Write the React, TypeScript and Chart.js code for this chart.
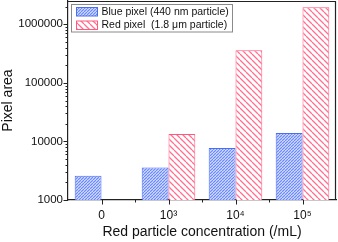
import { useEffect, useRef } from "react";
import { Chart, registerables } from "chart.js";
Chart.register(...registerables);

const categories = ["0", "10³", "10⁴", "10⁵"];
const bluePixel = [2600, 3600, 7700, 14000];
const redPixel = [null, 13400, 360000, 1950000];
const yMajorTicks = [1000, 10000, 100000, 1000000];
const yMin = 1000;
const yMax = 2500000;
const seriesLabels = ["Blue pixel (440 nm particle)", "Red pixel  (1.8 μm particle)"];

const FONT = '"Liberation Sans", Arial, sans-serif';
const BLUE_BORDER = "#4a6ef0";
const RED_BORDER = "#ff5a7e";

function makePattern(size: number, bg: string, color: string, dir: "/" | "\\", lw: number) {
  const c = document.createElement("canvas");
  c.width = size;
  c.height = size;
  const x = c.getContext("2d")!;
  x.fillStyle = bg;
  x.fillRect(0, 0, size, size);
  x.strokeStyle = color;
  x.lineWidth = lw;
  x.beginPath();
  for (let k = -1; k <= 1; k++) {
    if (dir === "/") {
      x.moveTo(k * size, size);
      x.lineTo(k * size + size, 0);
    } else {
      x.moveTo(k * size, 0);
      x.lineTo(k * size + size, size);
    }
  }
  x.stroke();
  return x.createPattern(c, "repeat")!;
}

export default function App() {
  const ref = useRef<HTMLCanvasElement | null>(null);
  useEffect(() => {
    const canvas = ref.current!;
    const bluePat = makePattern(3, "#eef2ff", "#6a88ff", "/", 1.3);
    const redPat = makePattern(6, "#ffffff", "#ff7090", "\\", 1.3);

    const decor = {
      id: "decor",
      afterDraw(chart: any) {
        const ctx = chart.ctx as CanvasRenderingContext2D;
        const a = chart.chartArea;
        const xs = chart.scales.x;
        const ys = chart.scales.y;
        ctx.save();
        ctx.strokeStyle = "#222";
        ctx.lineWidth = 1.2;
        ctx.beginPath();
        ctx.moveTo(a.left, a.top + 0.5);
        ctx.lineTo(a.right - 0.5, a.top + 0.5);
        ctx.lineTo(a.right - 0.5, a.bottom);
        ctx.stroke();
        ctx.lineWidth = 1;
        ctx.beginPath();
        for (let e = 3; e <= 6; e++) {
          for (let m = 1; m <= 9; m++) {
            const v = m * Math.pow(10, e);
            if (v < yMin || v > yMax) continue;
            const py = Math.round(ys.getPixelForValue(v)) + 0.5;
            const len = m === 1 ? 4.5 : 2.5;
            ctx.moveTo(a.left - len, py);
            ctx.lineTo(a.left, py);
          }
        }
        for (let i = 0; i < categories.length; i++) {
          const px = Math.round(xs.getPixelForValue(i)) + 0.5;
          ctx.moveTo(px, a.bottom);
          ctx.lineTo(px, a.bottom + 4.5);
          if (i < categories.length - 1) {
            const mx = Math.round((xs.getPixelForValue(i) + xs.getPixelForValue(i + 1)) / 2) + 0.5;
            ctx.moveTo(mx, a.bottom);
            ctx.lineTo(mx, a.bottom + 2.5);
          }
        }
        ctx.stroke();
        const lx = 71.5, ly = 4.5, lw = 161, lh = 27.5;
        ctx.fillStyle = "#fff";
        ctx.fillRect(lx, ly, lw, lh);
        ctx.strokeStyle = "#8a8a8a";
        ctx.lineWidth = 1;
        ctx.strokeRect(lx, ly, lw, lh);
        const sw = [
          { pat: bluePat, border: BLUE_BORDER, y: 7.5 },
          { pat: redPat, border: RED_BORDER, y: 21 },
        ];
        sw.forEach((s, i) => {
          ctx.fillStyle = s.pat;
          ctx.fillRect(76.5, s.y, 21, 8.5);
          ctx.strokeStyle = s.border;
          ctx.strokeRect(76.5, s.y, 21, 8.5);
          ctx.fillStyle = "#111";
          ctx.font = `10.5px ${FONT}`;
          ctx.textBaseline = "middle";
          ctx.textAlign = "left";
          ctx.fillText(seriesLabels[i], 101.5, s.y + 4.5);
        });
        ctx.restore();
      },
    };

    const chart = new Chart(canvas, {
      type: "bar",
      data: {
        labels: categories,
        datasets: [
          {
            label: seriesLabels[0],
            data: bluePixel,
            backgroundColor: bluePat,
            borderColor: BLUE_BORDER,
            borderWidth: 1,
          },
          {
            label: seriesLabels[1],
            data: redPixel as any,
            backgroundColor: redPat,
            borderColor: RED_BORDER,
            borderWidth: 1,
          },
        ],
      },
      options: {
        animation: false,
        responsive: true,
        maintainAspectRatio: false,
        layout: { padding: { top: 1, right: 2, left: 0, bottom: 0 } },
        datasets: { bar: { categoryPercentage: 0.8, barPercentage: 1.0 } },
        plugins: { legend: { display: false }, tooltip: { enabled: false } },
        scales: {
          x: {
            type: "category",
            offset: true,
            grid: { display: false, drawTicks: false },
            border: { display: true, color: "#222", width: 1.2 },
            ticks: { color: "#111", font: { family: FONT, size: 12 }, padding: 8, maxRotation: 0 },
            title: {
              display: true,
              text: "Red particle concentration (/mL)",
              color: "#111",
              font: { family: FONT, size: 14 },
              padding: { top: 0, bottom: 1 },
            },
            afterFit(scale: any) {
              scale.height = 42;
              scale.paddingLeft = 0;
              scale.paddingRight = 0;
            },
          },
          y: {
            type: "logarithmic",
            min: yMin,
            max: yMax,
            grid: { display: false, drawTicks: false },
            border: { display: true, color: "#222", width: 1.2 },
            afterBuildTicks(scale: any) {
              scale.ticks = yMajorTicks.map((v) => ({ value: v, major: true }));
            },
            ticks: {
              color: "#111",
              font: { family: FONT, size: 11.5 },
              padding: 5,
              callback: (v: any) => String(v),
            },
            title: {
              display: true,
              text: "Pixel area",
              color: "#111",
              font: { family: FONT, size: 14 },
              padding: { top: 0, bottom: 0 },
            },
            afterFit(scale: any) {
              scale.width = 68;
              scale.paddingTop = 0;
              scale.paddingBottom = 0;
            },
          },
        },
      },
      plugins: [decor],
    });
    return () => chart.destroy();
  }, []);
  return (
    <div style={{ position: "fixed", left: 0, top: 0, width: 338, height: 242 }}>
      <canvas ref={ref} />
    </div>
  );
}
